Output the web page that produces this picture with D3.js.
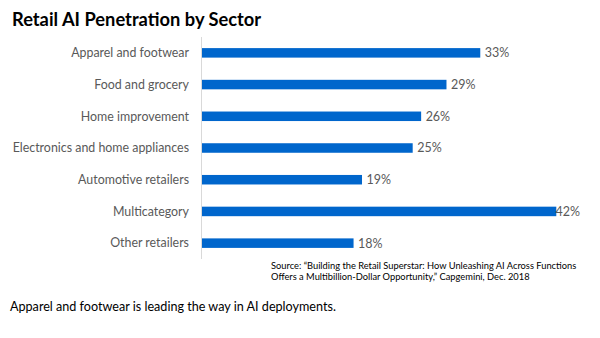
<!DOCTYPE html>
<html>
<head>
<meta charset="utf-8">
<script src="https://cdn.jsdelivr.net/npm/d3@7"></script>
<style>
  body { margin: 0; background: #fff; }
  text { font-family: Lato, "Open Sans", sans-serif; }
</style>
</head>
<body>
<div id="chart"></div>
<script>
// chart data
var sectors = ["Apparel and footwear", "Food and grocery", "Home improvement",
               "Electronics and home appliances", "Automotive retailers",
               "Multicategory", "Other retailers"];
var penetration = [33, 29, 26, 25, 19, 42, 18];

var titleText = "Retail AI Penetration by Sector";
var sourceLines = ["Source: \u201cBuilding the Retail Superstar: How Unleashing AI Across Functions",
                   "Offers a Multibillion-Dollar Opportunity,\u201d Capgemini, Dec. 2018"];
var footerText = "Apparel and footwear is leading the way in AI deployments.";

function drawChart(){
    var W = 600, H = 338;
    var plot = {left: 201.5, top: 37, bottom: 259, right: 580};

    var svg = d3.select("#chart").append("svg")
        .attr("width", W)
        .attr("height", H);

    var x = d3.scaleLinear().domain([0, 42]).range([plot.left, 556.3]);
    var y = d3.scaleBand().domain(sectors).range([plot.top, plot.bottom]).paddingInner(0.7).paddingOuter(0.35);

    //title
    svg.append("text")
        .attr("x", 12).attr("y", 26)
        .style("font-size", "18.3px")
        .style("font-weight", "bold")
        .style("fill", "#000")
        .text(titleText);

    //bars
    svg.selectAll(".bar")
        .data(penetration)
        .enter().append("rect")
        .attr("class", "bar")
        .attr("x", x(0))
        .attr("y", (d, i) => y(sectors[i]))
        .attr("width", (d) => x(d) - x(0))
        .attr("height", y.bandwidth())
        .style("fill", "#0066cc");

    //axis line
    svg.append("line")
        .attr("x1", plot.left).attr("x2", plot.left)
        .attr("y1", plot.top).attr("y2", plot.bottom)
        .style("stroke", "#d9d9d9")
        .style("stroke-width", 1);

    //category labels
    svg.selectAll(".cat")
        .data(sectors)
        .enter().append("text")
        .attr("class", "cat")
        .attr("x", 189)
        .attr("y", (d) => y(d) + y.bandwidth() / 2)
        .attr("dy", "0.35em")
        .attr("text-anchor", "end")
        .style("font-size", "12.4px")
        .style("fill", "#595959")
        .text((d) => d);

    //value labels, pushed back inside the plot when too wide
    svg.selectAll(".val")
        .data(penetration)
        .enter().append("text")
        .attr("class", "val")
        .attr("y", (d, i) => y(sectors[i]) + y.bandwidth() / 2)
        .attr("dy", "0.35em")
        .style("font-size", "12.5px")
        .style("fill", "#595959")
        .text((d) => d + "%")
        .attr("x", function(d){
            var w = this.getComputedTextLength();
            return Math.min(x(d) + 4.5, plot.right - w);
        });

    //source
    svg.selectAll(".src")
        .data(sourceLines)
        .enter().append("text")
        .attr("class", "src")
        .attr("x", 271)
        .attr("y", (d, i) => 269 + i * 11)
        .style("font-size", "9.3px")
        .style("fill", "#000")
        .text((d) => d);

    //footer note
    svg.append("text")
        .attr("x", 10).attr("y", 311)
        .style("font-size", "12.6px")
        .style("fill", "#000")
        .text(footerText);
}
drawChart();
</script>
</body>
</html>
